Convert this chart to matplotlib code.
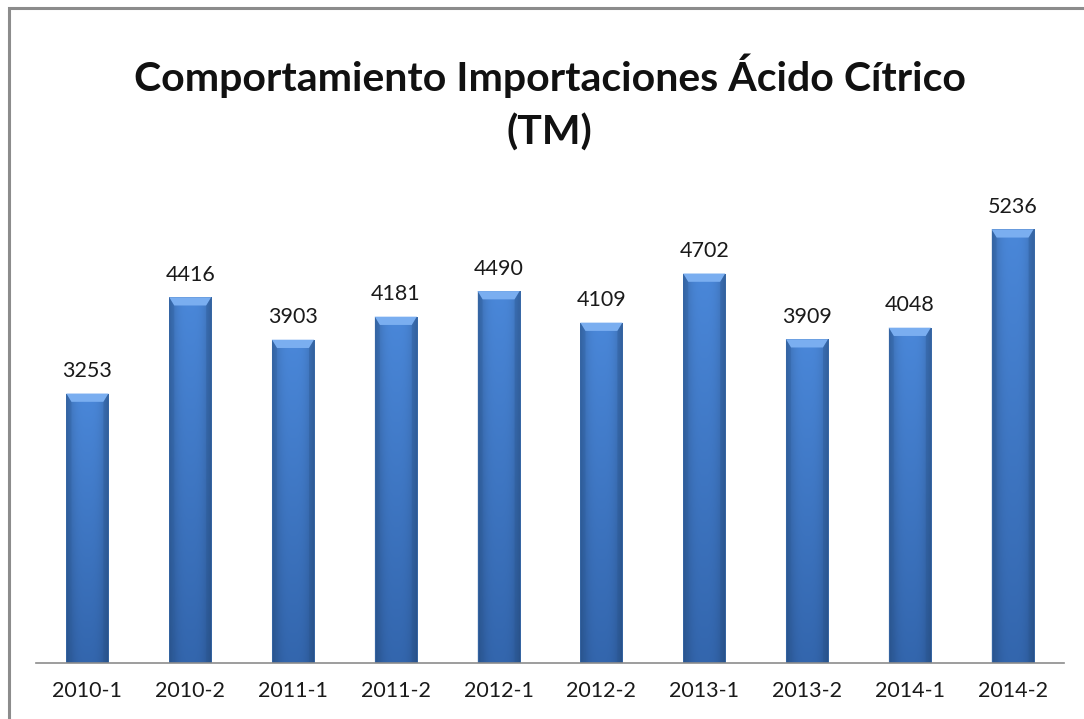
import numpy as np
import matplotlib.pyplot as plt
from matplotlib.patches import Polygon, Rectangle

periodos = ['2010-1', '2010-2', '2011-1', '2011-2', '2012-1',
            '2012-2', '2013-1', '2013-2', '2014-1', '2014-2']
importaciones = [3253, 4416, 3903, 4181, 4490, 4109, 4702, 3909, 4048, 5236]

titulo = 'Comportamiento Importaciones Ácido Cítrico\n(TM)'

plt.rcParams['font.family'] = ['Lato', 'DejaVu Sans']

fig = plt.figure(figsize=(10.84, 7.19), dpi=100)
# marco gris del grafico
fig.patches.append(Rectangle((9 / 1084, -0.05), 1.2, 1.05 - 8 / 719,
                             transform=fig.transFigure, fill=False,
                             edgecolor='#8c8c8c', linewidth=2.2))

ax = fig.add_axes([36 / 1084, 56 / 719, 1028 / 1084, 497 / 719])
ax.set_xlim(-0.5, len(periodos) - 0.5)
ax.set_ylim(0, 6000)

ancho = 0.41
# sombreado horizontal: bordes mas oscuros, centro mas claro
xs = np.linspace(-1, 1, 64)
ys = np.linspace(0, 1, 128)
X, Y = np.meshgrid(xs, ys)
shade = 1 - 0.25 * np.abs(X) ** 3
base_bot = np.array([0.20, 0.40, 0.68])
base_top = np.array([0.29, 0.53, 0.85])
img = (base_bot[None, None, :] * (1 - Y[..., None]) + base_top[None, None, :] * Y[..., None])
img = np.clip(img * shade[..., None], 0, 1)

cap = 100  # altura del bisel superior en unidades de datos
for i, v in enumerate(importaciones):
    x0, x1 = i - ancho / 2, i + ancho / 2
    im = ax.imshow(img, extent=[x0, x1, 0, v], origin='lower', aspect='auto', zorder=2)
    rect = Rectangle((x0, 0), ancho, v, transform=ax.transData)
    im.set_clip_path(rect)
    ax.add_patch(Rectangle((x0, 0), ancho, v, fill=False, edgecolor='#3a6aa8',
                           linewidth=0.6, zorder=3))
    ins = ancho * 0.12
    ax.add_patch(Polygon([(x0, v), (x1, v), (x1 - ins, v - cap), (x0 + ins, v - cap)],
                         closed=True, facecolor='#7aaef0', edgecolor='none', zorder=3))
    ax.add_patch(Polygon([(x0, v), (x0 + ins, v - cap), (x0 + ins, 0), (x0, 0)],
                         closed=True, facecolor='#2e5f9e', alpha=0.35, edgecolor='none', zorder=3))
    ax.add_patch(Polygon([(x1, v), (x1 - ins, v - cap), (x1 - ins, 0), (x1, 0)],
                         closed=True, facecolor='#2a568f', alpha=0.35, edgecolor='none', zorder=3))
    ax.text(i, v + 150, str(v), ha='center', va='bottom', fontsize=15.5, color='#1a1a1a')

ax.set_xticks(range(len(periodos)))
ax.set_xticklabels(periodos, fontsize=15.5, color='#1a1a1a')
ax.tick_params(axis='x', length=0, pad=13)
ax.set_yticks([])
for s in ['top', 'right', 'left']:
    ax.spines[s].set_visible(False)
ax.spines['bottom'].set_color('#8c8c8c')
ax.spines['bottom'].set_linewidth(1.2)
ax.spines['bottom'].set_zorder(4)

fig.text(0.507, 0.857, titulo, ha='center', va='center', fontsize=29.5,
         fontweight='bold', color='#111111', linespacing=1.5)

fig.savefig('out.png', dpi=100)
